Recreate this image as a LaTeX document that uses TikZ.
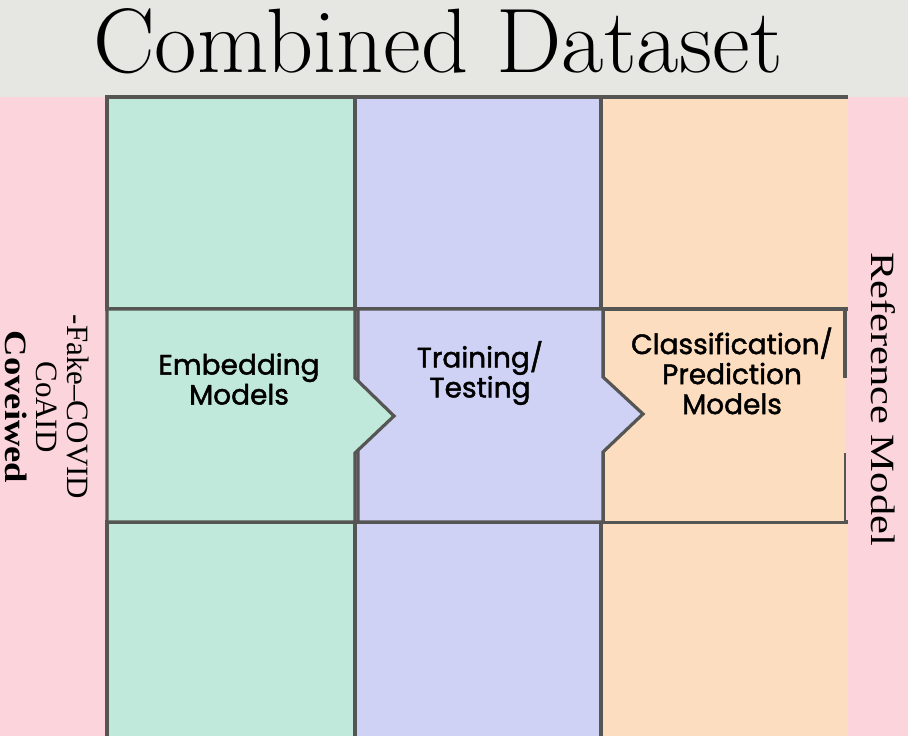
\documentclass[tikz,border=0pt]{standalone}
\usepackage{fontspec}
\setmainfont{Liberation Serif}
\newfontfamily\boxfont{Poppins}[FakeBold=1.6]
\newfontfamily\titlefont{Latin Modern Roman}
\usepackage{tikz}
\usetikzlibrary{positioning}

\definecolor{band}{HTML}{E6E6E2}
\definecolor{blush}{HTML}{FCD5DC}
\definecolor{mint}{HTML}{C0E9DC}
\definecolor{lilac}{HTML}{D0D2F5}
\definecolor{peach}{HTML}{FDDDBF}
\definecolor{edge}{HTML}{555553}

\begin{document}
\begin{tikzpicture}[x=1pt, y=-1pt, line width=3.2pt,
  cell/.style = {draw=edge},
  boxtext/.style = {font=\boxfont\fontsize{28}{30}\selectfont, align=center},
  sidetext/.style = {font=\fontsize{31}{31}\selectfont, align=center, rotate=-90}]
\useasboundingbox (0,0) rectangle (908,736);
\fill[band] (0,0) rectangle (908,97);
\fill[blush] (0,97) rectangle (908,736);

% top row
\filldraw[cell, fill=mint] (107,97) rectangle (355,309);
\filldraw[cell, fill=lilac] (355,97) rectangle (601,309);
\fill[peach] (601,97) rectangle (848,309);
\draw[edge] (848,97) -- (601,97) -- (601,309) -- (848,309);

% bottom row
\filldraw[cell, fill=mint] (107,522) rectangle (355,740);
\filldraw[cell, fill=lilac] (355,522) rectangle (601,740);
\fill[peach] (601,522) rectangle (848,740);
\draw[edge] (848,522) -- (601,522) -- (601,740);

% middle row, arrows
\fill[peach] (603,309) rectangle (845,522);
\draw[edge] (603,522) -- (603,309) -- (845,309) -- (845,378);
\draw[edge, line width=1.8pt] (845,453) -- (845,522) -- (603,522);
\filldraw[cell, fill=lilac] (358,309) -- (603,309) -- (603,377) -- (643,414)
  -- (603,452) -- (603,522) -- (358,522) -- cycle;
\filldraw[cell, fill=mint] (107,309) -- (355,309) -- (355,378) -- (394,416)
  -- (355,453) -- (355,522) -- (107,522) -- cycle;

\node[font=\titlefont\fontsize{88}{88}\selectfont, xscale=1.05, yscale=1.04, anchor=base] (title) at (438,72) {Combined Dataset};

\node[boxtext] (embed) at (239,379) {Embedding\\Models};
\node[boxtext] (train) at (480,373) {Training/\\Testing};
\node[boxtext] (classify) at (732,371) {Classification/\\Prediction\\Models};

\node[sidetext] (sources) at (47,407) {-Fake--COVID\\CoAID\\\scalebox{1.18}[1]{\textbf{Coveiwed}}};
\node[sidetext, font=\fontsize{34}{34}\selectfont, xscale=1.25] (reference) at (883,399) {Reference Model};
\end{tikzpicture}
\end{document}
